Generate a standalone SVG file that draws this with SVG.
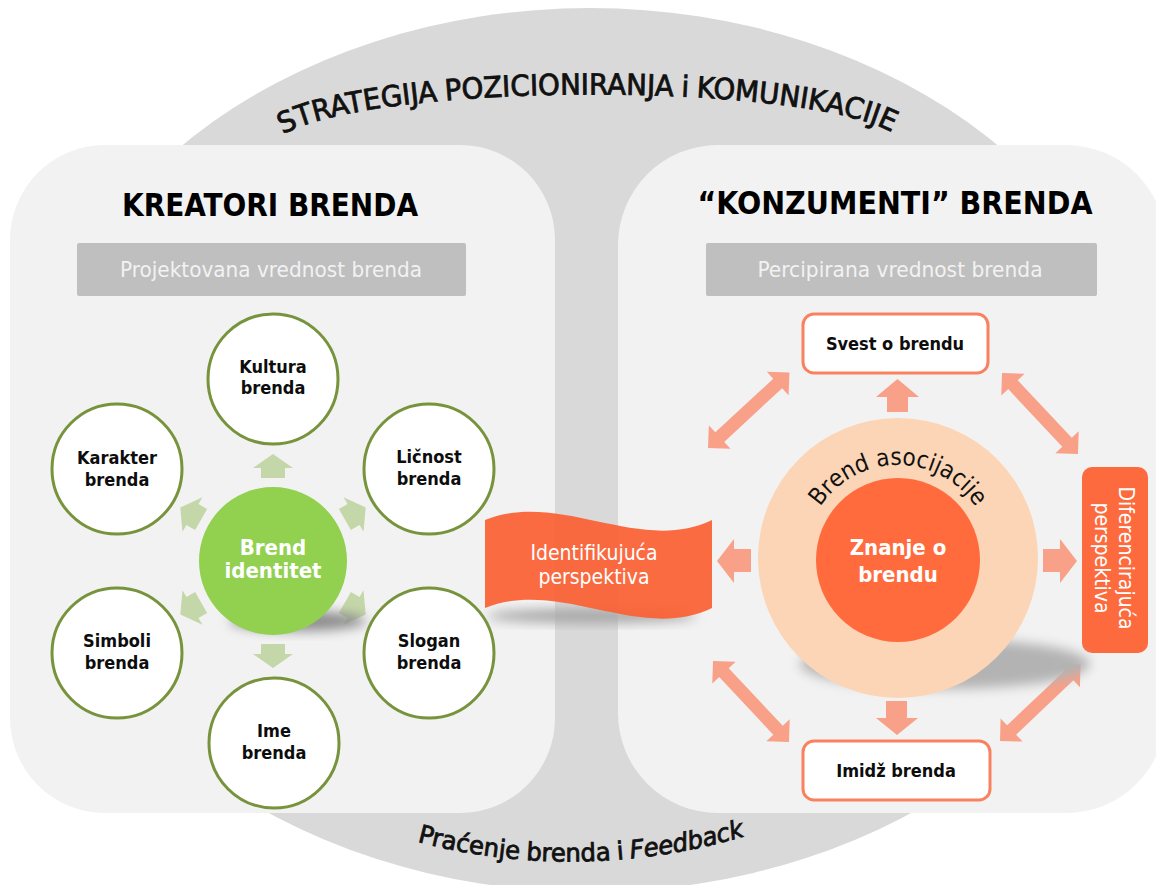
<svg xmlns="http://www.w3.org/2000/svg" width="1156" height="885" viewBox="0 0 1156 885">
<defs>
<style>
text { font-family: "DejaVu Sans Condensed", "DejaVu Sans", "Liberation Sans", sans-serif; font-stretch: condensed; }
.lbl { font-size: 18px; font-weight: bold; fill: #0d0d0d; text-anchor: middle; }
.ring { fill: #ffffff; stroke: #77933c; stroke-width: 3; }
.garrow { fill: #c4d7a9; }
.parrow { fill: #f8a088; }
.box { fill: #ffffff; stroke: #f8825f; stroke-width: 3; }
.title { font-size: 32px; font-weight: bold; fill: #000000; text-anchor: middle; }
.sub { font-size: 22px; fill: #f2f2f2; text-anchor: middle; }
.wbold { font-size: 22px; font-weight: bold; fill: #ffffff; text-anchor: middle; }
.wreg { font-size: 21px; fill: #ffffff; text-anchor: middle; }
.shadow { filter: url(#blur); }
.arc { fill: #111111; text-anchor: middle; }
.heavy { stroke: #111111; stroke-width: 0.8; }
</style>
<filter id="blur" x="-50%" y="-50%" width="200%" height="200%"><feGaussianBlur stdDeviation="6"/></filter>
<path id="garr" d="M83,-12 H93 V-20 L107,0 L93,20 V12 H83 Z"/>
<path id="dbl" d="M0,0 L16,-16 L16,-6.5 L95,-6.5 L95,-16 L111,0 L95,16 L95,6.5 L16,6.5 L16,16 Z"/>
<path id="topArc" d="M272,142 C340,80 835,78 903,140"/>
<path id="botArc" d="M403,838 Q580,888 759,832"/>
<path id="assocArc" d="M810.6,526.2 A93,93 0 0 1 985.4,526.2"/>
</defs>

<rect x="0" y="0" width="1156" height="885" fill="#ffffff"/>

<g id="background">
<ellipse cx="590" cy="450" rx="563" ry="442" fill="#d9d9d9"/>
<text class="arc heavy" font-size="29" word-spacing="-1"><textPath href="#topArc" startOffset="50%" textLength="618" lengthAdjust="spacingAndGlyphs">STRATEGIJA POZICIONIRANJA i KOMUNIKACIJE</textPath></text>
<text class="arc heavy" font-size="25" word-spacing="-1"><textPath href="#botArc" startOffset="50%" textLength="332" lengthAdjust="spacingAndGlyphs">Praćenje brenda i <tspan font-style="italic">Feedback</tspan></textPath></text>
</g>

<g id="panel-left">
<rect x="10" y="145" width="545" height="668" rx="95" fill="#f2f2f2"/>
<text class="title" x="270" y="216" textLength="296" lengthAdjust="spacingAndGlyphs">KREATORI BRENDA</text>
<rect x="77" y="243" width="389" height="53" rx="2" fill="#bfbfbf"/>
<text class="sub" x="271" y="277" textLength="302" lengthAdjust="spacingAndGlyphs">Projektovana vrednost brenda</text>
</g>

<g id="panel-right">
<rect x="618" y="145" width="548" height="668" rx="100" fill="#f2f2f2"/>
<text class="title" x="895" y="214" textLength="395" lengthAdjust="spacingAndGlyphs">“KONZUMENTI” BRENDA</text>
<rect x="706" y="243" width="391" height="53" rx="2" fill="#bfbfbf"/>
<text class="sub" x="900" y="277" textLength="285" lengthAdjust="spacingAndGlyphs">Percipirana vrednost brenda</text>
</g>

<g id="connectors">
<use href="#garr" class="garrow" transform="translate(273,561) rotate(-90)"/>
<use href="#garr" class="garrow" transform="translate(273,561) rotate(-30)"/>
<use href="#garr" class="garrow" transform="translate(273,561) rotate(30)"/>
<use href="#garr" class="garrow" transform="translate(273,561) rotate(90)"/>
<use href="#garr" class="garrow" transform="translate(273,561) rotate(150)"/>
<use href="#garr" class="garrow" transform="translate(273,561) rotate(210)"/>
<path class="parrow" d="M887,412 V397 H876 L897.5,379 L919,397 H908 V412 Z"/>
<path class="parrow" d="M886,701 V718 H876 L897,735 L918,718 H907 V701 Z"/>
<path class="parrow" d="M751,549 H734 V539 L717,561 L734,583 V572 H751 Z"/>
<path class="parrow" d="M1043,549 H1060 V539 L1077,561 L1060,583 V572 H1043 Z"/>
<use href="#dbl" class="parrow" transform="translate(708,448) rotate(-42.8)"/>
<use href="#dbl" class="parrow" transform="translate(1002,373) rotate(46.8)"/>
<use href="#dbl" class="parrow" transform="translate(713,661) rotate(46.8)"/>
<use href="#dbl" class="parrow" transform="translate(1000,741) rotate(-43.5)"/>
</g>

<g id="node-brend-identitet">
<ellipse class="shadow" cx="298" cy="621" rx="68" ry="10" fill="#8c8c8c"/>
<circle cx="273" cy="561" r="74" fill="#92d050"/>
<text class="wbold" x="273" y="555">Brend</text>
<text class="wbold" x="273" y="578">identitet</text>
</g>

<g id="node-kultura">
<circle class="ring" cx="273" cy="379" r="65"/>
<text class="lbl" x="273" y="373">Kultura</text>
<text class="lbl" x="273" y="394">brenda</text>
</g>
<g id="node-licnost">
<circle class="ring" cx="429" cy="469" r="65"/>
<text class="lbl" x="429" y="463">Ličnost</text>
<text class="lbl" x="429" y="485">brenda</text>
</g>
<g id="node-slogan">
<circle class="ring" cx="429" cy="653" r="65"/>
<text class="lbl" x="429" y="647">Slogan</text>
<text class="lbl" x="429" y="669">brenda</text>
</g>
<g id="node-ime">
<circle class="ring" cx="274" cy="743" r="65"/>
<text class="lbl" x="274" y="737">Ime</text>
<text class="lbl" x="274" y="759">brenda</text>
</g>
<g id="node-simboli">
<circle class="ring" cx="117" cy="653" r="65"/>
<text class="lbl" x="117" y="647">Simboli</text>
<text class="lbl" x="117" y="669">brenda</text>
</g>
<g id="node-karakter">
<circle class="ring" cx="117" cy="469" r="65"/>
<text class="lbl" x="117" y="464">Karakter</text>
<text class="lbl" x="117" y="486">brenda</text>
</g>

<g id="node-identifikujuca">
<ellipse class="shadow" cx="592" cy="616" rx="105" ry="7" fill="#a6a6a6"/>
<path d="M485,520 C560,490 640,555 712,520 L712,608 C640,643 560,578 485,608 Z" fill="#fc5f33" fill-opacity="0.92"/>
<text class="wreg" x="594" y="560">Identifikujuća</text>
<text class="wreg" x="594" y="584">perspektiva</text>
</g>

<g id="node-svest">
<rect class="box" x="803" y="314" width="185" height="59" rx="11"/>
<text class="lbl" x="895" y="350">Svest o brendu</text>
</g>
<g id="node-imidz">
<rect class="box" x="803" y="741" width="187" height="59" rx="11"/>
<text class="lbl" x="896" y="777">Imidž brenda</text>
</g>

<g id="node-diferencirajuca">
<rect x="1082" y="467" width="66" height="186" rx="10" fill="#fd6a3d"/>
<text class="wreg" transform="translate(1119,558) rotate(90)">Diferencirajuća</text>
<text class="wreg" transform="translate(1095,558) rotate(90)">perspektiva</text>
</g>

<g id="node-brend-asocijacije">
<ellipse class="shadow" cx="945" cy="664" rx="145" ry="25" fill="#b3b3b3"/>
<circle cx="898" cy="558" r="140" fill="#fbd5b5"/>
<text class="arc" font-size="24"><textPath href="#assocArc" startOffset="50%" textLength="184" lengthAdjust="spacingAndGlyphs">Brend asocijacije</textPath></text>
</g>
<g id="node-znanje">
<circle cx="898" cy="560" r="82" fill="#ff6b3d"/>
<text class="wbold" x="898" y="555">Znanje o</text>
<text class="wbold" x="898" y="582">brendu</text>
</g>
</svg>
